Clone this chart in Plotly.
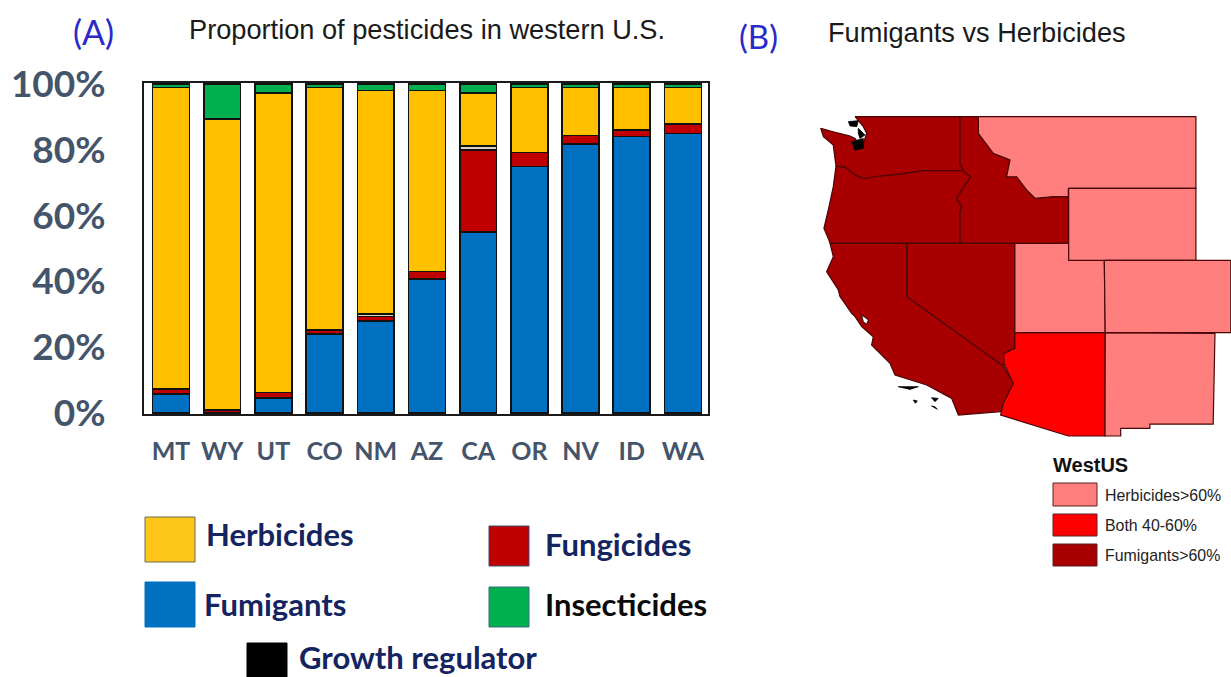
import plotly.graph_objects as go

W, H = 1231, 677

states = ["MT", "WY", "UT", "CO", "NM", "AZ", "CA", "OR", "NV", "ID", "WA"]
fumigants = [5.8, None, 4.5, 24.0, 27.9, 40.7, 55.0, 74.9, 81.8, 84.1, 85.0]
fungicides = [1.5, 1.0, 1.7, 1.2, 1.4, 2.3, 25.0, 4.3, 2.6, 2.0, 2.9]
growth_regulator = [None, None, None, None, 0.8, None, 1.2, None, None, None, None]
herbicides = [91.6, 88.3, 91.0, 73.7, 67.9, 55.0, 16.0, 19.7, 14.5, 12.8, 11.0]
insecticides = [1.1, 10.7, 2.8, 1.1, 2.0, 2.0, 2.8, 1.1, 1.1, 1.1, 1.1]
y_ticks = [0, 20, 40, 60, 80, 100]
y_tick_labels = ["0%", "20%", "40%", "60%", "80%", "100%"]

series = [
    ("Fumigants", fumigants, "#0070c0"),
    ("Fungicides", fungicides, "#c00000"),
    ("Growth regulator", growth_regulator, "#d9cfc8"),
    ("Herbicides", herbicides, "#ffc000"),
    ("Insecticides", insecticides, "#00b050"),
]

# State outlines, longitude / latitude
WA_lon = [-122.87, -117.04, -117.04, -116.86, -117.78, -119.08, -120.37, -121.49, -122.41, -122.87, -123.43, -123.93, -124.0, -124.08, -124.63, -124.78, -124.08, -123.15, -122.87, -122.69, -122.97, -122.87, -122.41, -122.23, -122.41, -122.87]
WA_lat = [48.96, 48.96, 46.39, 45.98, 45.98, 45.98, 45.79, 45.68, 45.53, 45.74, 46.16, 46.23, 46.75, 47.39, 47.86, 48.32, 48.13, 47.89, 47.76, 47.49, 47.30, 47.12, 47.49, 48.04, 48.41, 48.96]
OR_lon = [-123.93, -123.43, -122.87, -122.41, -121.49, -120.37, -119.08, -117.78, -116.86, -116.45, -116.76, -117.23, -116.95, -117.04, -117.04, -124.26, -124.36, -124.6, -124.36, -124.08, -123.93]
OR_lat = [46.23, 46.16, 45.74, 45.53, 45.68, 45.79, 45.98, 45.98, 45.98, 45.64, 45.18, 44.45, 43.99, 43.62, 41.96, 41.96, 42.23, 42.79, 43.8, 45.09, 46.23]
ID_lon = [-117.04, -116.02, -116.02, -115.74, -115.19, -114.26, -114.45, -113.89, -113.34, -112.87, -111.86, -111.02, -111.02, -117.04, -117.04, -116.95, -117.23, -116.76, -116.45, -116.86, -117.04, -117.04]
ID_lat = [48.96, 48.96, 48.04, 47.67, 46.94, 46.57, 45.64, 45.64, 44.91, 44.45, 44.54, 44.54, 41.96, 41.96, 43.62, 43.99, 44.45, 45.18, 45.64, 45.98, 46.39, 48.96]
MT_lon = [-116.02, -103.93, -103.93, -105.93, -108.34, -111.02, -111.02, -111.86, -112.87, -113.34, -113.89, -114.45, -114.26, -115.19, -115.74, -116.02, -116.02]
MT_lat = [48.96, 48.96, 45.0, 45.0, 45.0, 45.0, 44.54, 44.54, 44.45, 44.91, 45.64, 45.64, 46.57, 46.94, 47.67, 48.04, 48.96]
WY_lon = [-111.0, -103.93, -103.93, -111.0, -111.0]
WY_lat = [45.0, 45.0, 41.02, 41.02, 45.0]
UT_lon = [-113.99, -111.0, -111.0, -109.02, -108.97, -113.99, -113.99]
UT_lat = [41.96, 41.96, 41.02, 41.02, 37.02, 37.02, 41.96]
CO_lon = [-109.02, -101.99, -101.99, -108.97, -109.02]
CO_lat = [41.02, 41.02, 37.02, 37.02, 41.02]
NM_lon = [-108.97, -102.87, -102.97, -106.49, -106.49, -108.11, -108.11, -108.98, -108.97]
NM_lat = [37.02, 36.98, 31.96, 31.96, 31.72, 31.72, 31.3, 31.3, 37.02]
AZ_lon = [-113.99, -108.97, -108.98, -111.02, -114.78, -114.63, -114.08, -114.6, -114.6, -113.99, -113.99]
AZ_lat = [37.02, 37.02, 31.3, 31.3, 32.46, 33.11, 34.21, 35.32, 35.87, 36.15, 37.02]
NV_lon = [-120.0, -113.99, -113.99, -114.6, -114.6, -120.0, -120.0]
NV_lat = [41.96, 41.96, 36.15, 35.87, 35.14, 39.01, 41.96]
CA_lon = [-124.26, -120.0, -120.0, -114.6, -114.08, -114.63, -114.78, -117.13, -117.5, -118.89, -120.65, -120.93, -121.95, -121.86, -122.5, -122.87, -123.06, -123.71, -123.8, -124.45, -124.08, -124.26]
CA_lat = [41.96, 41.96, 39.01, 35.14, 34.21, 33.11, 32.65, 32.46, 33.38, 34.12, 34.67, 35.32, 36.33, 36.79, 37.35, 37.9, 38.09, 39.01, 39.38, 40.39, 41.22, 41.96]

island_lon = [
    [-120.47, -119.36, -119.82],
    [-119.63, -119.41, -119.52],
    [-118.62, -118.25, -118.43],
    [-118.62, -118.3, -118.43],
    [-123.24, -122.69, -122.78, -123.15],
    [-122.69, -122.32, -122.6, -122.69],
    [-123.06, -122.41, -122.41, -122.87],
]
island_lat = [
    [34.03, 34.03, 33.88],
    [33.29, 33.24, 33.11],
    [33.42, 33.38, 33.2],
    [32.96, 32.78, 32.92],
    [48.69, 48.74, 48.41, 48.45],
    [48.32, 47.95, 47.76, 48.04],
    [47.58, 47.76, 47.21, 47.12],
]
bay_lon = [-122.5, -122.13, -122.23, -122.41, -122.5]
bay_lat = [37.99, 37.72, 37.49, 37.62, 37.99]

DARK, MID, LIGHT = "#a80000", "#ff0000", "#ff7f7f"
map_states = [
    ("WA", WA_lon, WA_lat, DARK), ("OR", OR_lon, OR_lat, DARK), ("ID", ID_lon, ID_lat, DARK),
    ("NV", NV_lon, NV_lat, DARK), ("CA", CA_lon, CA_lat, DARK), ("AZ", AZ_lon, AZ_lat, MID),
    ("MT", MT_lon, MT_lat, LIGHT), ("UT", UT_lon, UT_lat, LIGHT), ("NM", NM_lon, NM_lat, LIGHT),
    ("WY", WY_lon, WY_lat, LIGHT), ("CO", CO_lon, CO_lat, LIGHT),
]


def px(x):
    return x / W


def py(y):
    return 1 - y / H


fig = go.Figure()

for name, vals, color in series:
    fig.add_trace(go.Bar(x=states, y=vals, name=name, width=0.72,
                         marker=dict(color=color, line=dict(color="#111111", width=1.6)),
                         xaxis="x", yaxis="y"))

for name, lon, lat, color in map_states:
    fig.add_trace(go.Scatter(x=lon, y=lat, name=name, mode="lines", fill="toself", fillcolor=color,
                             line=dict(color="#4a0606", width=1.2), xaxis="x2", yaxis="y2"))

for lon, lat in zip(island_lon, island_lat):
    fig.add_trace(go.Scatter(x=lon + lon[:1], y=lat + lat[:1], mode="lines", fill="toself", fillcolor="#000000",
                             line=dict(color="#000000", width=0.8), xaxis="x2", yaxis="y2"))
fig.add_trace(go.Scatter(x=bay_lon, y=bay_lat, mode="lines", fill="toself", fillcolor="#ffffff",
                         line=dict(color="#000000", width=0.8), xaxis="x2", yaxis="y2"))

shapes = []
annotations = []


def swatch(x0, y0, x1, y1, fill, line):
    shapes.append(dict(type="rect", xref="paper", yref="paper", x0=px(x0), x1=px(x1), y0=py(y0), y1=py(y1),
                       fillcolor=fill, line=dict(color=line, width=1)))


def label(x, y, text, size, color, family, bold=False, anchor="left"):
    annotations.append(dict(xref="paper", yref="paper", x=px(x), y=py(y), text=f"<b>{text}</b>" if bold else text,
                            showarrow=False, xanchor=anchor, yanchor="middle", align="left",
                            font=dict(size=size, color=color, family=family), borderpad=0))


ARIAL = "Liberation Sans"
LATO = "Lato"
NAVY = "#14245f"

label(72, 32, "(A)", 34, "#2a2ac8", LATO)
label(738, 36, "(B)", 33, "#2a2ac8", LATO)
label(188, 30, "Proportion of pesticides in western U.S.", 27.2, "#1a1a1a", ARIAL)
label(827, 33, "Fumigants vs Herbicides", 27.2, "#1a1a1a", ARIAL)

swatch(145, 517, 195, 562, "#ffc61a", "#6b6b55")
label(205, 534, "Herbicides", 31, NAVY, LATO, True)
swatch(145, 582, 195, 627, "#0070c0", "#0070c0")
label(203, 604, "Fumigants", 31, NAVY, LATO, True)
swatch(489, 526, 529, 566, "#c00000", "#3a4a7a")
label(544, 544, "Fungicides", 31, NAVY, LATO, True)
swatch(489, 587, 529, 627, "#00b050", "#3a6a7a")
label(544, 604, "Insecticides", 31, "#0a0a0a", LATO, True)
swatch(247, 643, 287, 677, "#000000", "#000000")
label(298, 657, "Growth regulator", 31, NAVY, LATO, True)

label(1052, 465, "WestUS", 20, "#111111", ARIAL, True)
swatch(1053, 483, 1097, 506, LIGHT, "#5a2020")
label(1104, 495, "Herbicides&gt;60%", 15.9, "#222222", ARIAL)
swatch(1053, 514, 1097, 536, MID, "#5a2020")
label(1104, 525, "Both 40-60%", 15.9, "#222222", ARIAL)
swatch(1053, 544, 1097, 566, DARK, "#5a2020")
label(1104, 555, "Fumigants&gt;60%", 15.9, "#222222", ARIAL)

fig.update_layout(
    width=W, height=H, margin=dict(l=0, r=0, t=0, b=0, autoexpand=False), autosize=False,
    paper_bgcolor="#ffffff", plot_bgcolor="#ffffff", showlegend=False, barmode="stack", bargap=0.28,
    shapes=shapes, annotations=annotations,
    xaxis=dict(domain=[px(144), px(708)], range=[-0.527, 10.49], type="category", anchor="y", automargin=False,
               showline=True, mirror=True, linecolor="#1a1a1a", linewidth=2, showgrid=False, ticks="",
               tickfont=dict(family=LATO, size=25, color="#44546a", weight="bold"), ticklabelstandoff=14),
    yaxis=dict(domain=[py(414), py(83)], range=[-0.3, 100.3], anchor="x", automargin=False,
               tickmode="array", tickvals=y_ticks, ticktext=y_tick_labels,
               showline=True, mirror=True, linecolor="#1a1a1a", linewidth=2, showgrid=False, ticks="", zeroline=False,
               tickfont=dict(family=LATO, size=37, color="#44546a", weight="bold"), ticklabelstandoff=29),
    xaxis2=dict(domain=[px(800), 1], range=[-125.93, -101.98], visible=False, anchor="y2", automargin=False),
    yaxis2=dict(domain=[py(440), py(100)], range=[31.08, 49.885], visible=False, anchor="x2", automargin=False),
)

fig.write_html("out.html", post_script="document.body.style.margin='0';",
               config={"displayModeBar": False})
